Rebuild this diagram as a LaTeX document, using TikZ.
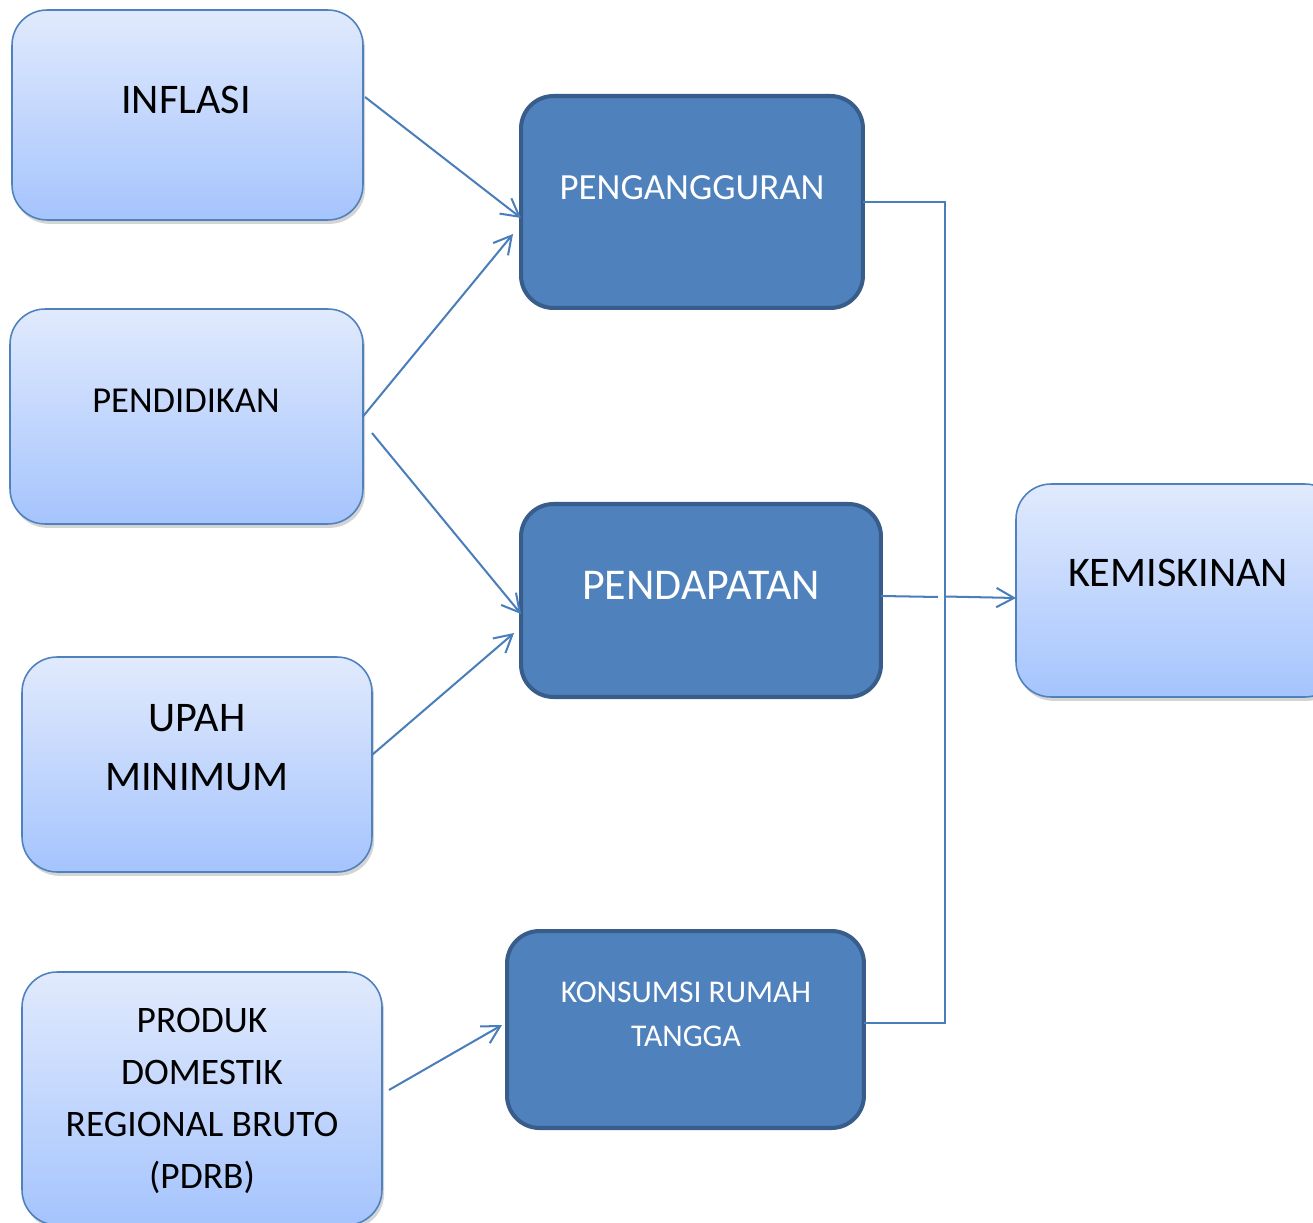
\documentclass[tikz,border=0pt]{standalone}
\usepackage{fontspec}
\setmainfont{Carlito}
\usetikzlibrary{arrows.meta,calc,shadows}

\definecolor{lightTop}{HTML}{E1EAFD}
\definecolor{lightBot}{HTML}{A5C4FD}
\definecolor{darkFill}{HTML}{4F81BD}
\definecolor{darkEdge}{HTML}{385D8A}
\definecolor{lineBlue}{HTML}{4A7EBB}

\begin{document}
\begin{tikzpicture}[
  x=0.02cm,y=-0.02cm,
  line/.style={draw=lineBlue,line width=1.15pt},
  arr/.style={-{Straight Barb[length=10pt,width=11pt,line width=1.15pt]},draw=lineBlue,line width=1.15pt},
  srcbox/.style={rectangle,rounded corners=0.7cm,draw=darkFill,line width=0.9pt,
    top color=lightTop,bottom color=lightBot,inner sep=0pt,outer sep=0pt,
    drop shadow={shadow xshift=1.2pt,shadow yshift=-2.2pt,opacity=0.28,fill=black!60}},
  midbox/.style={rectangle,rounded corners=0.65cm,draw=darkEdge,fill=darkFill,line width=2.3pt,
    inner sep=0pt,outer sep=0pt},
  darktext/.style={black,align=center,inner sep=0pt},
  lighttext/.style={white,align=center,inner sep=0pt}
]

\useasboundingbox (0,0) rectangle (1313,1223);

% ---------------- factor boxes (left) ----------------
\node[srcbox,minimum width=7.02cm,minimum height=4.2cm] (inflasi) at (187.5,115) {};
\node[srcbox,minimum width=7.06cm,minimum height=4.3cm] (pendidikan) at (186.5,416.5) {};
\node[srcbox,minimum width=7.0cm,minimum height=4.3cm] (upah) at (197,764.5) {};
\node[srcbox,minimum width=7.2cm,minimum height=5.06cm] (pdrb) at (202,1098.5) {};

\node[darktext,font=\fontsize{24}{33.6}\selectfont] (tInflasi) at (186,100) {INFLASI};
\node[darktext,font=\fontsize{20.8}{28}\selectfont] (tPendidikan) at (186,401) {PENDIDIKAN};
\node[darktext,font=\fontsize{24}{33.6}\selectfont] (tUpah) at (197,748) {UPAH\\MINIMUM};
\node[darktext,font=\fontsize{21.3}{29.6}\selectfont] (tPdrb) at (202,1101) {PRODUK\\DOMESTIK\\REGIONAL BRUTO\\(PDRB)};

% ---------------- intermediate boxes ----------------
\node[midbox,minimum width=6.84cm,minimum height=4.24cm] (pengangguran) at (692,202) {};
\node[midbox,minimum width=7.2cm,minimum height=3.86cm] (pendapatan) at (701,600.5) {};
\node[midbox,minimum width=7.14cm,minimum height=3.94cm] (konsumsi) at (685.5,1029.5) {};

\node[lighttext,font=\fontsize{21}{30}\selectfont] (tPengangguran) at (692,188) {PENGANGGURAN};
\node[lighttext,font=\fontsize{25}{33}\selectfont] (tPendapatan) at (701,585) {PENDAPATAN};
\node[lighttext,font=\fontsize{18}{25}\selectfont] (tKonsumsi) at (686,1014) {KONSUMSI RUMAH\\TANGGA};

% ---------------- outcome box ----------------
\node[srcbox,minimum width=6.48cm,minimum height=4.26cm] (kemiskinan) at (1178,590.5) {};
\node[darktext,font=\fontsize{24}{33}\selectfont] (tKemiskinan) at (1178,573) {KEMISKINAN};

% ---------------- arrows into the middle column ----------------
\draw[arr] ($(inflasi.east)+(2,-18)$) -- ($(pengangguran.west)+(0,16)$);
\draw[arr] (pendidikan.east) -- ($(pengangguran.west)+(-8,32)$);
\draw[arr] ($(pendidikan.east)+(9,16.5)$) -- ($(pendapatan.west)+(0,13.5)$);
\draw[arr] ($(upah.east)+(0,-9.5)$) -- ($(pendapatan.west)+(-7,32.5)$);
\draw[arr] ($(pdrb.east)+(7,-8.5)$) -- ($(konsumsi.west)+(-5,-4.5)$);

% ---------------- collector line to the right ----------------
\coordinate (jTop) at (945,202);
\coordinate (jBot) at (945,1023);
\coordinate (jGap) at (938,597);
\coordinate (jMid) at (945,596.5);

\draw[line] (pengangguran.east) -- (jTop) -- (jBot) -- ($(konsumsi.east)+(0,-6.5)$);
\draw[line] ($(pendapatan.east)+(0,-4.5)$) -- (jGap);
\draw[arr] (jMid) -- ($(kemiskinan.west)+(0,7.5)$);

\end{tikzpicture}
\end{document}
